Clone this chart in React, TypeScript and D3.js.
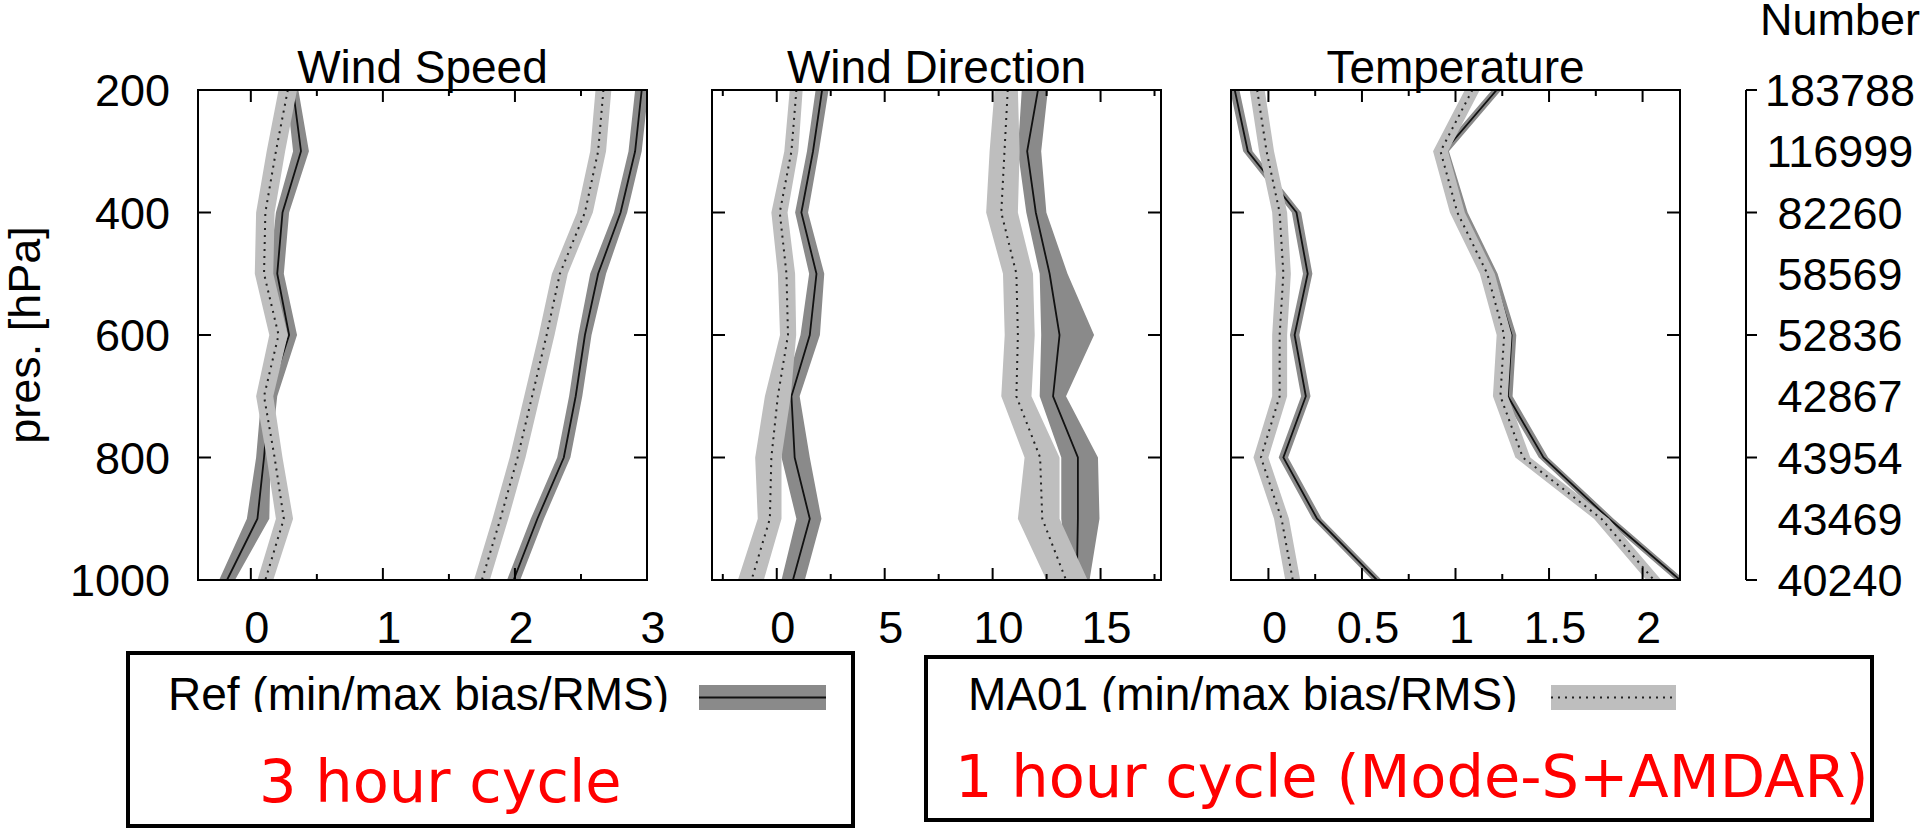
import React, { useEffect } from 'react';
import * as d3 from 'd3';

// ---------- data ----------
const levels = [200, 300, 400, 500, 600, 700, 800, 900, 1000];
const pressureTicks = [200, 400, 600, 800, 1000];
const obsCounts = ['183788', '116999', '82260', '58569', '52836', '42867', '43954', '43469', '40240'];

// Wind speed
const wsDomain = [-0.4, 3];
const wsMajor = [0, 1, 2, 3];
const wsMinor = [0.5, 1.5, 2.5];
const wsRefBiasMean = [0.32, 0.38, 0.24, 0.20, 0.29, 0.14, 0.10, 0.05, -0.18];
const wsRefBiasMin = [0.27, 0.32, 0.19, 0.14, 0.23, 0.08, 0.04, -0.03, -0.24];
const wsRefBiasMax = [0.36, 0.44, 0.29, 0.25, 0.35, 0.20, 0.15, 0.14, -0.12];
const wsRefRmsMean = [2.96, 2.91, 2.80, 2.63, 2.53, 2.46, 2.37, 2.17, 1.99];
const wsRefRmsMin = [2.91, 2.86, 2.75, 2.57, 2.48, 2.41, 2.32, 2.12, 1.94];
const wsRefRmsMax = [3.01, 2.96, 2.85, 2.69, 2.58, 2.51, 2.42, 2.22, 2.04];
const wsMaBiasMean = [0.28, 0.19, 0.11, 0.10, 0.21, 0.10, 0.18, 0.25, 0.11];
const wsMaBiasMin = [0.21, 0.12, 0.04, 0.03, 0.14, 0.04, 0.12, 0.19, 0.05];
const wsMaBiasMax = [0.35, 0.26, 0.18, 0.17, 0.28, 0.17, 0.24, 0.32, 0.17];
const wsMaRmsMean = [2.67, 2.63, 2.53, 2.34, 2.24, 2.13, 2.02, 1.89, 1.75];
const wsMaRmsMin = [2.61, 2.57, 2.47, 2.28, 2.18, 2.07, 1.96, 1.83, 1.69];
const wsMaRmsMax = [2.73, 2.69, 2.59, 2.40, 2.30, 2.19, 2.08, 1.95, 1.81];

// Wind direction
const wdDomain = [-3, 17.8];
const wdMajor = [0, 5, 10, 15];
const wdMinor = [-2.5, 2.5, 7.5, 12.5, 17.5];
const wdRefBiasMean = [2.1, 1.68, 1.14, 1.84, 1.53, 0.68, 0.83, 1.53, 0.75];
const wdRefBiasMin = [1.8, 1.4, 0.85, 1.5, 1.1, 0.28, 0.22, 0.91, 0.22];
const wdRefBiasMax = [2.4, 1.95, 1.45, 2.2, 2.0, 1.06, 1.53, 2.07, 1.3];
const wdRefRmsMean = [12.1, 11.6, 12.0, 12.64, 13.1, 12.8, 13.95, 13.95, 13.9];
const wdRefRmsMin = [11.35, 11.17, 11.56, 12.18, 12.25, 12.18, 13.18, 13.18, 13.49];
const wdRefRmsMax = [12.56, 12.25, 12.49, 13.47, 14.7, 13.4, 14.88, 14.95, 14.49];
const wdMaBiasMean = [0.91, 0.68, 0.14, 0.45, 0.52, 0.05, -0.25, -0.32, -1.17];
const wdMaBiasMin = [0.6, 0.35, -0.25, 0.05, 0.15, -0.55, -1.0, -0.88, -1.8];
const wdMaBiasMax = [1.2, 1.0, 0.5, 0.85, 0.9, 0.65, 0.22, 0.22, -0.6];
const wdMaRmsMean = [10.7, 10.55, 10.4, 11.1, 11.17, 11.1, 12.2, 12.3, 13.4];
const wdMaRmsMin = [10.09, 9.86, 9.7, 10.48, 10.56, 10.4, 11.48, 11.17, 12.49];
const wdMaRmsMax = [11.17, 11.25, 11.17, 11.87, 11.95, 11.8, 13.1, 13.1, 14.4];

// Temperature
const tDomain = [-0.2, 2.2];
const tMajor = [0, 0.5, 1, 1.5, 2];
const tMinor = [0.25, 0.75, 1.25, 1.75];
const tRefBiasMean = [-0.18, -0.11, 0.15, 0.21, 0.14, 0.20, 0.08, 0.26, 0.58];
const tRefBiasMin = [-0.205, -0.135, 0.125, 0.185, 0.115, 0.175, 0.055, 0.235, 0.555];
const tRefBiasMax = [-0.155, -0.085, 0.175, 0.235, 0.165, 0.225, 0.105, 0.285, 0.605];
const tRefRmsMean = [1.22, 0.94, 1.04, 1.20, 1.30, 1.28, 1.47, 1.82, 2.20];
const tRefRmsMin = [1.195, 0.915, 1.015, 1.175, 1.275, 1.255, 1.445, 1.795, 2.175];
const tRefRmsMax = [1.245, 0.965, 1.065, 1.225, 1.325, 1.305, 1.495, 1.845, 2.225];
const tMaBiasMean = [-0.06, -0.01, 0.06, 0.08, 0.06, 0.06, -0.04, 0.07, 0.13];
const tMaBiasMin = [-0.1, -0.05, 0.02, 0.04, 0.02, 0.02, -0.08, 0.03, 0.09];
const tMaBiasMax = [-0.02, 0.03, 0.10, 0.12, 0.10, 0.10, 0.0, 0.11, 0.17];
const tMaRmsMean = [1.09, 0.92, 1.01, 1.17, 1.26, 1.24, 1.36, 1.78, 2.06];
const tMaRmsMin = [1.05, 0.88, 0.97, 1.13, 1.22, 1.20, 1.32, 1.74, 2.02];
const tMaRmsMax = [1.13, 0.96, 1.05, 1.21, 1.30, 1.28, 1.40, 1.82, 2.10];

const legendRef = 'Ref (min/max bias/RMS)';
const legendMa = 'MA01 (min/max bias/RMS)';
const note3h = '3 hour cycle';
const note1h = '1 hour cycle (Mode-S+AMDAR)';

// ---------- layout / style ----------
const W = 1920;
const H = 829;
const TOP = 90;
const BOTTOM = 580;
const PANEL_W = 449;
const FONT = '"Liberation Sans", Arial, sans-serif';
const RED_FONT = '"DejaVu Sans", sans-serif';
const REF_FILL = '#8a8a8a';
const MA_FILL = '#bebebe';

type Series = { mean: number[]; min: number[]; max: number[] };
type Panel = {
  title: string;
  left: number;
  domain: number[];
  major: number[];
  minor: number[];
  ref: Series[];
  ma: Series[];
};

const panels: Panel[] = [
  {
    title: 'Wind Speed', left: 198, domain: wsDomain, major: wsMajor, minor: wsMinor,
    ref: [
      { mean: wsRefBiasMean, min: wsRefBiasMin, max: wsRefBiasMax },
      { mean: wsRefRmsMean, min: wsRefRmsMin, max: wsRefRmsMax },
    ],
    ma: [
      { mean: wsMaBiasMean, min: wsMaBiasMin, max: wsMaBiasMax },
      { mean: wsMaRmsMean, min: wsMaRmsMin, max: wsMaRmsMax },
    ],
  },
  {
    title: 'Wind Direction', left: 712, domain: wdDomain, major: wdMajor, minor: wdMinor,
    ref: [
      { mean: wdRefBiasMean, min: wdRefBiasMin, max: wdRefBiasMax },
      { mean: wdRefRmsMean, min: wdRefRmsMin, max: wdRefRmsMax },
    ],
    ma: [
      { mean: wdMaBiasMean, min: wdMaBiasMin, max: wdMaBiasMax },
      { mean: wdMaRmsMean, min: wdMaRmsMin, max: wdMaRmsMax },
    ],
  },
  {
    title: 'Temperature', left: 1231, domain: tDomain, major: tMajor, minor: tMinor,
    ref: [
      { mean: tRefBiasMean, min: tRefBiasMin, max: tRefBiasMax },
      { mean: tRefRmsMean, min: tRefRmsMin, max: tRefRmsMax },
    ],
    ma: [
      { mean: tMaBiasMean, min: tMaBiasMin, max: tMaBiasMax },
      { mean: tMaRmsMean, min: tMaRmsMin, max: tMaRmsMax },
    ],
  },
];

const y = d3.scaleLinear().domain([200, 1000]).range([TOP, BOTTOM]);

function PanelView({ p, idx }: { p: Panel; idx: number }) {
  const right = p.left + PANEL_W;
  const x = d3.scaleLinear().domain(p.domain).range([p.left, right]);
  const area = (s: Series) =>
    d3.area<number>()
      .y((_, i) => y(levels[i]))
      .x0((_, i) => x(s.min[i]))
      .x1((_, i) => x(s.max[i]))(s.mean) || '';
  const line = (s: Series) =>
    d3.line<number>()
      .x((d) => x(d))
      .y((_, i) => y(levels[i]))(s.mean) || '';
  const clipId = `clip-${idx}`;
  return (
    <g>
      <defs>
        <clipPath id={clipId}>
          <rect x={p.left} y={TOP} width={PANEL_W} height={BOTTOM - TOP} />
        </clipPath>
      </defs>
      <text x={(p.left + right) / 2} y={83} textAnchor="middle" fontFamily={FONT} fontSize={46} fill="#000">
        {p.title}
      </text>
      <g clipPath={`url(#${clipId})`}>
        {p.ref.map((s, i) => (
          <path key={'rb' + i} d={area(s)} fill={REF_FILL} stroke="none" />
        ))}
        {p.ref.map((s, i) => (
          <path key={'rl' + i} d={line(s)} fill="none" stroke="#111" strokeWidth={1.8} />
        ))}
        {p.ma.map((s, i) => (
          <path key={'mb' + i} d={area(s)} fill={MA_FILL} stroke="none" />
        ))}
        {p.ma.map((s, i) => (
          <path key={'ml' + i} d={line(s)} fill="none" stroke="#222" strokeWidth={2} strokeDasharray="2 5" />
        ))}
      </g>
      {p.major.map((v) => (
        <g key={'M' + v}>
          <line x1={x(v)} x2={x(v)} y1={BOTTOM} y2={BOTTOM - 12} stroke="#000" strokeWidth={2} />
          <line x1={x(v)} x2={x(v)} y1={TOP} y2={TOP + 12} stroke="#000" strokeWidth={2} />
          <text x={x(v) + 6} y={643} textAnchor="middle" fontFamily={FONT} fontSize={45} fill="#000">
            {String(v)}
          </text>
        </g>
      ))}
      {p.minor.filter((v) => v > p.domain[0] && v < p.domain[1] + 0.001).map((v) => (
        <g key={'m' + v}>
          <line x1={x(v)} x2={x(v)} y1={BOTTOM} y2={BOTTOM - 6} stroke="#000" strokeWidth={2} />
          <line x1={x(v)} x2={x(v)} y1={TOP} y2={TOP + 6} stroke="#000" strokeWidth={2} />
        </g>
      ))}
      {pressureTicks.map((v) => (
        <g key={'p' + v}>
          <line x1={p.left} x2={p.left + 13} y1={y(v)} y2={y(v)} stroke="#000" strokeWidth={2} />
          <line x1={right} x2={right - 13} y1={y(v)} y2={y(v)} stroke="#000" strokeWidth={2} />
        </g>
      ))}
      <rect x={p.left} y={TOP} width={PANEL_W} height={BOTTOM - TOP} fill="none" stroke="#000" strokeWidth={2} />
    </g>
  );
}

export default function App() {
  useEffect(() => {
    document.body.style.margin = '0';
    document.body.style.overflow = 'hidden';
  }, []);
  const numAxisX = 1746;
  return (
    <svg width={W} height={H} style={{ position: 'absolute', left: 0, top: 0, background: '#fff' }}>
      <rect x={0} y={0} width={W} height={H} fill="#fff" />
      <defs>
        <clipPath id="legclip">
          <rect x={0} y={0} width={W} height={712} />
        </clipPath>
      </defs>
      {pressureTicks.map((v) => (
        <text key={v} x={170} y={y(v)} dy="0.36em" textAnchor="end" fontFamily={FONT} fontSize={45} fill="#000">
          {v}
        </text>
      ))}
      <text transform={`translate(40, ${y(600)}) rotate(-90)`} textAnchor="middle" fontFamily={FONT} fontSize={45} fill="#000">
        pres. [hPa]
      </text>
      {panels.map((p, i) => (
        <PanelView key={p.title} p={p} idx={i} />
      ))}
      <text x={1760} y={35} fontFamily={FONT} fontSize={45} fill="#000">Number</text>
      <line x1={numAxisX} x2={numAxisX} y1={TOP} y2={BOTTOM} stroke="#000" strokeWidth={2} />
      {pressureTicks.map((v) => (
        <line key={'n' + v} x1={numAxisX} x2={numAxisX + 11} y1={y(v)} y2={y(v)} stroke="#000" strokeWidth={2} />
      ))}
      {obsCounts.map((c, i) => (
        <text key={c + i} x={1840} y={y(levels[i])} dy="0.36em" textAnchor="middle" fontFamily={FONT} fontSize={45} fill="#000">
          {c}
        </text>
      ))}
      {/* legend 1 */}
      <rect x={128} y={653} width={725} height={173} fill="#fff" stroke="#000" strokeWidth={4} />
      <g clipPath="url(#legclip)">
        <text x={168} y={710} fontFamily={FONT} fontSize={46} fill="#000">{legendRef}</text>
        <text x={968} y={710} fontFamily={FONT} fontSize={46} fill="#000">{legendMa}</text>
      </g>
      <rect x={699} y={685} width={127} height={25} fill={REF_FILL} />
      <line x1={699} x2={826} y1={697.5} y2={697.5} stroke="#111" strokeWidth={2} />
      <text x={259} y={802} fontFamily={RED_FONT} fontSize={59} fill="#ff0000">{note3h}</text>
      {/* legend 2 */}
      <rect x={926} y={657} width={946} height={163} fill="none" stroke="#000" strokeWidth={4} />
      <rect x={1551} y={685} width={125} height={25} fill={MA_FILL} />
      <line x1={1551} x2={1676} y1={697.5} y2={697.5} stroke="#222" strokeWidth={2} strokeDasharray="2 5" />
      <text x={955} y={797} fontFamily={RED_FONT} fontSize={59} fill="#ff0000">{note1h}</text>
    </svg>
  );
}
